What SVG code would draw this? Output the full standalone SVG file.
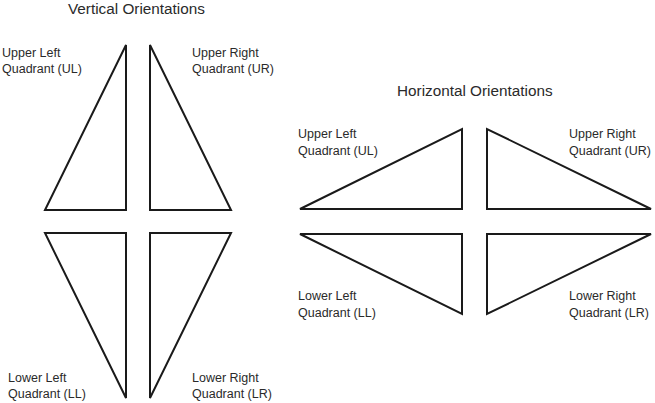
<svg xmlns="http://www.w3.org/2000/svg" width="655" height="403" viewBox="0 0 655 403">
<style>
.tri{fill:none;stroke:#1a1a1a;stroke-width:2;stroke-linejoin:miter}
.t{font-family:"Liberation Sans",Arial,sans-serif;font-size:12.5px;fill:#2a2a2a}
.h{font-family:"Liberation Sans",Arial,sans-serif;font-size:15.3px;fill:#2a2a2a}
</style>
<rect width="655" height="403" fill="#fff"/>
<text class="h" x="68" y="14">Vertical Orientations</text>
<text class="h" x="397" y="96">Horizontal Orientations</text>
<g id="v-ul"><polygon class="tri" points="126,45 45,210 126,210"/><text class="t" x="2" y="57">Upper Left</text><text class="t" x="2" y="73">Quadrant (UL)</text></g>
<g id="v-ur"><polygon class="tri" points="150,45 150,210 231,210"/><text class="t" x="192" y="57">Upper Right</text><text class="t" x="192" y="73">Quadrant (UR)</text></g>
<g id="v-ll"><polygon class="tri" points="45,233 126,233 126,398"/><text class="t" x="8" y="382">Lower Left</text><text class="t" x="8" y="398">Quadrant (LL)</text></g>
<g id="v-lr"><polygon class="tri" points="150,233 231,233 150,398"/><text class="t" x="192" y="382">Lower Right</text><text class="t" x="192" y="398">Quadrant (LR)</text></g>
<g id="h-ul"><polygon class="tri" points="300,209 462,129 462,209"/><text class="t" x="298" y="138">Upper Left</text><text class="t" x="298" y="155">Quadrant (UL)</text></g>
<g id="h-ur"><polygon class="tri" points="487,129 487,209 651,209"/><text class="t" x="569" y="138">Upper Right</text><text class="t" x="569" y="155">Quadrant (UR)</text></g>
<g id="h-ll"><polygon class="tri" points="300,234 462,234 462,314"/><text class="t" x="298" y="300">Lower Left</text><text class="t" x="298" y="317">Quadrant (LL)</text></g>
<g id="h-lr"><polygon class="tri" points="487,234 651,234 487,314"/><text class="t" x="569" y="300">Lower Right</text><text class="t" x="569" y="317">Quadrant (LR)</text></g>
<g id="connectors"></g>
</svg>
